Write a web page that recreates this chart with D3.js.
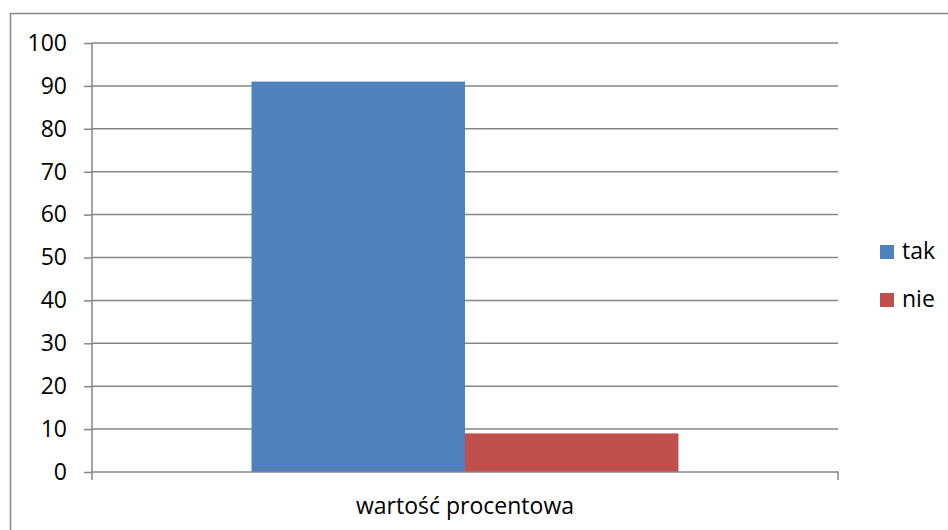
<!DOCTYPE html>
<html><head><meta charset="utf-8">
<script src="https://cdn.jsdelivr.net/npm/d3@7"></script>
<style>body{margin:0;background:#fff}svg{display:block}text{font-family:"Open Sans",sans-serif;fill:#000}</style>
</head><body>
<svg id="c" width="948" height="530"></svg>
<script>
const categories = ["wartość procentowa"];
const seriesNames = ["tak", "nie"];
const seriesValues = [[91], [9]];
const seriesColors = ["#4f81bd", "#c0504d"];
const yTicks = [0, 10, 20, 30, 40, 50, 60, 70, 80, 90, 100];

const svg = d3.select("#c");
const L = 92, R = 838, T = 43, B = 472;
const grid = "#868686";
const FS = 23;

// outer border
svg.append("path").attr("d", "M10.5,530 V13.5 H948").attr("fill", "none").attr("stroke", grid).attr("stroke-width", 1.5);

const y = d3.scaleLinear().domain([0, 100]).range([B, T]);
const x0 = d3.scaleBand().domain(categories).range([L, R]).paddingInner(0).paddingOuter(0.3736);
const x1 = d3.scaleBand().domain(seriesNames).range([0, x0.bandwidth()]).padding(0);

// gridlines
svg.append("g").selectAll("line").data(yTicks.filter(d => d > 0)).join("line")
  .attr("x1", L).attr("x2", R).attr("y1", d => y(d)).attr("y2", d => y(d))
  .attr("stroke", grid).attr("stroke-width", 1.5);

// y axis
const ya = svg.append("g").attr("transform", `translate(${L},0)`)
  .call(d3.axisLeft(y).tickValues(yTicks).tickSize(8).tickPadding(17).tickFormat(d3.format("d")));
ya.select(".domain").attr("stroke", grid).attr("stroke-width", 1.5).attr("d", `M0,${T}V${B}`);
ya.selectAll(".tick line").attr("stroke", grid).attr("stroke-width", 1.5);
ya.selectAll("text").attr("font-size", FS).attr("font-family", "Open Sans").attr("fill", "#000");

// bars
categories.forEach((c, ci) => {
  svg.append("g").selectAll("rect").data(seriesNames).join("rect")
    .attr("x", s => x0(c) + x1(s)).attr("width", x1.bandwidth())
    .attr("y", (s, i) => y(seriesValues[i][ci])).attr("height", (s, i) => B - y(seriesValues[i][ci]))
    .attr("fill", (s, i) => seriesColors[i]);
});

// x axis
const xa = svg.append("g").attr("transform", `translate(0,${B})`)
  .call(d3.axisBottom(x0).tickSize(0).tickPadding(26));
xa.select(".domain").attr("stroke", grid).attr("stroke-width", 1.5).attr("d", `M${L},8V0H${R}V8`);
xa.selectAll("text").attr("font-size", FS).attr("font-family", "Open Sans").attr("fill", "#000");

// legend
const lg = svg.append("g").selectAll("g").data(seriesNames).join("g")
  .attr("transform", (d, i) => `translate(880,${245 + i * 48})`);
lg.append("rect").attr("width", 14).attr("height", 14).attr("fill", (d, i) => seriesColors[i]);
lg.append("text").attr("x", 22).attr("y", 14).attr("font-size", FS).text(d => d);
</script>
</body></html>
